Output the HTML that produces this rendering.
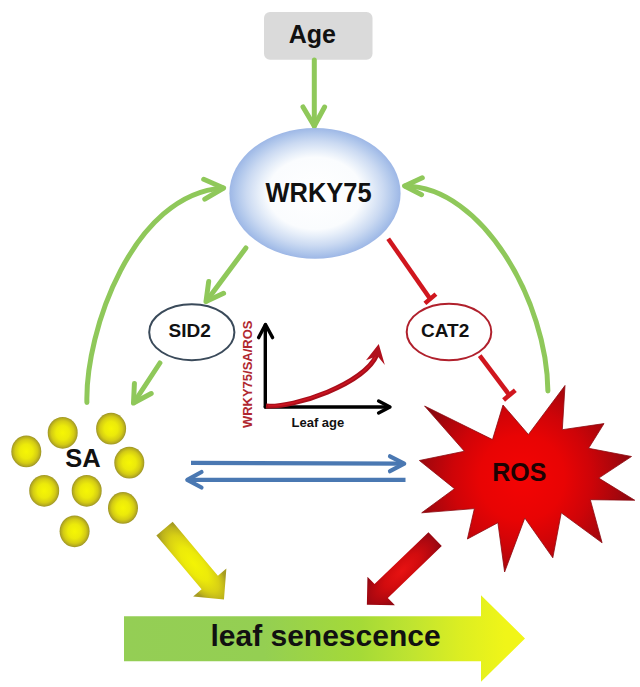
<!DOCTYPE html>
<html><head><meta charset="utf-8">
<style>
html,body{margin:0;padding:0;background:#fff;}
body{width:640px;height:687px;overflow:hidden;}
svg{display:block;}
text{font-family:"Liberation Sans",sans-serif;font-weight:bold;}
</style></head>
<body>
<svg width="640" height="687" viewBox="0 0 640 687">
<defs>
<radialGradient id="gW" cx="0.5" cy="0.5" r="0.5">
<stop offset="0" stop-color="#ffffff"/>
<stop offset="0.55" stop-color="#fafcfe"/>
<stop offset="0.66" stop-color="#e6eef9"/>
<stop offset="0.8" stop-color="#cbdaf2"/>
<stop offset="0.92" stop-color="#afc6eb"/>
<stop offset="1" stop-color="#9db7e6"/>
</radialGradient>
<radialGradient id="gY" cx="0.5" cy="0.5" r="0.5">
<stop offset="0" stop-color="#f6f604"/>
<stop offset="0.45" stop-color="#ecea0a"/>
<stop offset="0.75" stop-color="#d4cc14"/>
<stop offset="0.9" stop-color="#b8ae1e"/>
<stop offset="1" stop-color="#9c9426"/>
</radialGradient>
<radialGradient id="gR" cx="522" cy="478" r="112" gradientUnits="userSpaceOnUse">
<stop offset="0" stop-color="#f40404"/>
<stop offset="0.38" stop-color="#e80404"/>
<stop offset="0.62" stop-color="#ce0408"/>
<stop offset="0.85" stop-color="#a8060c"/>
<stop offset="1" stop-color="#8a0810"/>
</radialGradient>
<linearGradient id="gBig" x1="124" y1="0" x2="525" y2="0" gradientUnits="userSpaceOnUse">
<stop offset="0" stop-color="#94ce55"/>
<stop offset="0.35" stop-color="#94cf52"/>
<stop offset="0.59" stop-color="#a5da37"/>
<stop offset="0.72" stop-color="#c0e430"/>
<stop offset="0.84" stop-color="#dcee22"/>
<stop offset="0.95" stop-color="#f0f518"/>
<stop offset="1" stop-color="#f2f518"/>
</linearGradient>
<radialGradient id="gYA" cx="0" cy="0" r="50" gradientUnits="userSpaceOnUse" gradientTransform="translate(46,0) scale(1,0.38)">
<stop offset="0" stop-color="#f4f404"/>
<stop offset="0.4" stop-color="#ecea0a"/>
<stop offset="0.7" stop-color="#d8d014"/>
<stop offset="0.9" stop-color="#bcb21c"/>
<stop offset="1" stop-color="#a69c22"/>
</radialGradient>
<radialGradient id="gRA" cx="0" cy="0" r="50" gradientUnits="userSpaceOnUse" gradientTransform="translate(46,0) scale(1,0.42)">
<stop offset="0" stop-color="#e81212"/>
<stop offset="0.45" stop-color="#d20c0e"/>
<stop offset="0.8" stop-color="#ae0810"/>
<stop offset="1" stop-color="#900812"/>
</radialGradient>
</defs>

<!-- Age box -->
<rect x="264" y="12" width="108.5" height="47.7" rx="6" ry="6" fill="#dadada"/>
<text x="312.4" y="42.7" font-size="25" text-anchor="middle" fill="#111">Age</text>

<!-- green arrows -->
<g stroke="#8fc85a" stroke-width="5" fill="none" stroke-linecap="round" stroke-linejoin="round">
<path d="M314.3,60 L314.3,126"/>
<path d="M303,107 L314.3,126 L324.6,107"/>
<path d="M245.9,248 L206.5,301"/>
<path d="M208.7,281.5 L206,301.5 L223.6,293.3"/>
<path d="M159.9,363 L134,402.5"/>
<path d="M134.4,383.5 L133.5,403 L151.2,393.5"/>
<path d="M86.9,402.4 C85.3,330.9 132.9,194 223,188"/>
<path d="M203.7,179.3 L223.6,188 L204.8,199.2"/>
<path d="M547.9,391 C547.1,302.2 482.8,186.9 405,186"/>
<path d="M422.3,177.8 L404.6,186 L421.6,194.7"/>
</g>

<!-- WRKY75 ellipse -->
<ellipse cx="315" cy="193.3" rx="85.6" ry="65.4" fill="url(#gW)"/>
<text x="318.6" y="202.2" font-size="27.5" text-anchor="middle" fill="#111" textLength="106" lengthAdjust="spacingAndGlyphs">WRKY75</text>

<!-- SID2 -->
<ellipse cx="191.8" cy="332.2" rx="42.6" ry="28" fill="#fff" stroke="#3a4a5a" stroke-width="2"/>
<text x="189.6" y="337" font-size="19" text-anchor="middle" fill="#111">SID2</text>

<!-- CAT2 -->
<ellipse cx="449" cy="332" rx="42.3" ry="28.3" fill="#fff" stroke="#b0202c" stroke-width="2"/>
<text x="445.2" y="337" font-size="19" text-anchor="middle" fill="#111">CAT2</text>

<!-- red inhibitors -->
<g stroke="#d0161e" stroke-width="4.5" fill="none" stroke-linecap="butt">
<path d="M388.2,238.7 L430.1,298.7"/>
<path d="M424.9,303.4 L435.9,294.1"/>
<path d="M479.7,355.6 L509.2,394.8"/>
<path d="M503.6,399.9 L515.3,390.2"/>
</g>

<!-- graph -->
<text transform="translate(252.4,374.3) rotate(-90)" x="0" y="0" font-size="13" text-anchor="middle" fill="#b02830">WRKY75/SA/ROS</text>
<g stroke="#000" stroke-width="3.4" fill="none" stroke-linecap="round" stroke-linejoin="round">
<path d="M265.3,407 L265.3,325"/>
<path d="M258.6,337.6 L265.5,324.5 L272.6,337.6"/>
<path d="M265.3,407 L389,407"/>
<path d="M378.6,401 L390,407 L378.6,413"/>
</g>
<path d="M266,406 C294.4,408.1 364,384 376.8,355" fill="none" stroke="#a80e1a" stroke-width="4.8"/>
<path d="M268,405.6 C294.4,407.6 363,384 375.8,356" fill="none" stroke="#cc1420" stroke-width="1.6"/>
<polygon fill="#b0101c" points="378.75,343.9 384.85,365 377.5,356 366,360.2"/>
<text x="317.9" y="426.8" font-size="13" text-anchor="middle" fill="#111">Leaf age</text>

<!-- SA circles -->
<g fill="url(#gY)">
<ellipse cx="26.3" cy="451.4" rx="15" ry="15.9"/>
<ellipse cx="62.7" cy="432.8" rx="15" ry="15.9"/>
<ellipse cx="111.1" cy="428.7" rx="15" ry="15.9"/>
<ellipse cx="129.3" cy="462.7" rx="15" ry="15.9"/>
<ellipse cx="44.2" cy="490.8" rx="15" ry="15.9"/>
<ellipse cx="86.7" cy="490.8" rx="15" ry="15.9"/>
<ellipse cx="123" cy="507.9" rx="15" ry="15.9"/>
<ellipse cx="74.6" cy="531.3" rx="15" ry="15.9"/>
</g>
<text x="83" y="467" font-size="25.5" text-anchor="middle" fill="#111">SA</text>

<!-- blue arrows -->
<g stroke="#4a78b2" stroke-width="4.2" fill="none" stroke-linecap="butt" stroke-linejoin="round">
<path d="M191,462.9 L403,463.7"/>
<path d="M405.5,479.9 L189,479.9"/>
</g>
<g stroke="#4a78b2" stroke-width="4.2" fill="none" stroke-linecap="round" stroke-linejoin="round">
<path d="M390,456.3 L404.2,463.7 L390,471.2"/>
<path d="M201.5,472 L187.3,479.9 L201.5,487.5"/>
</g>

<!-- ROS star -->
<polygon fill="url(#gR)" stroke="#8c0a10" stroke-width="0.8" stroke-linejoin="miter" points="424.6,406 492.5,439.6 503,405 528.4,434.5 565,385.5 562.3,429.7 604,423.6 588.6,448.3 631.5,456.5 598.75,478.1 634.75,500.25 590.3,499.7 602.1,542.8 561.25,512.8 552.8,557.8 524.8,518 504.6,572 497.9,522.7 467.4,539 474.4,508.6 421.7,512.8 454.5,488.7 419.4,460.5 464.4,451.25"/>
<text x="519.3" y="480.7" font-size="25" text-anchor="middle" fill="#1c0202">ROS</text>

<!-- yellow block arrow -->
<g transform="translate(164.5,528.55) rotate(50)">
<polygon fill="url(#gYA)" points="0,-10.65 70.4,-10.65 70.4,-21.7 92.5,0 70.4,21.7 70.4,10.65 0,10.65"/>
</g>

<!-- red block arrow -->
<g transform="translate(435.1,539.1) rotate(136.1)">
<polygon fill="url(#gRA)" points="0,-9.6 74.8,-9.6 74.8,-19.85 94.7,0 74.8,19.85 74.8,9.6 0,9.6"/>
</g>

<!-- big arrow -->
<polygon fill="url(#gBig)" points="124,616.2 481,616.2 481,595.3 525,638.4 481,681.7 481,661.2 124,661.2"/>
<text x="325.5" y="646.3" font-size="30" text-anchor="middle" fill="#111">leaf senescence</text>
</svg>
</body></html>
